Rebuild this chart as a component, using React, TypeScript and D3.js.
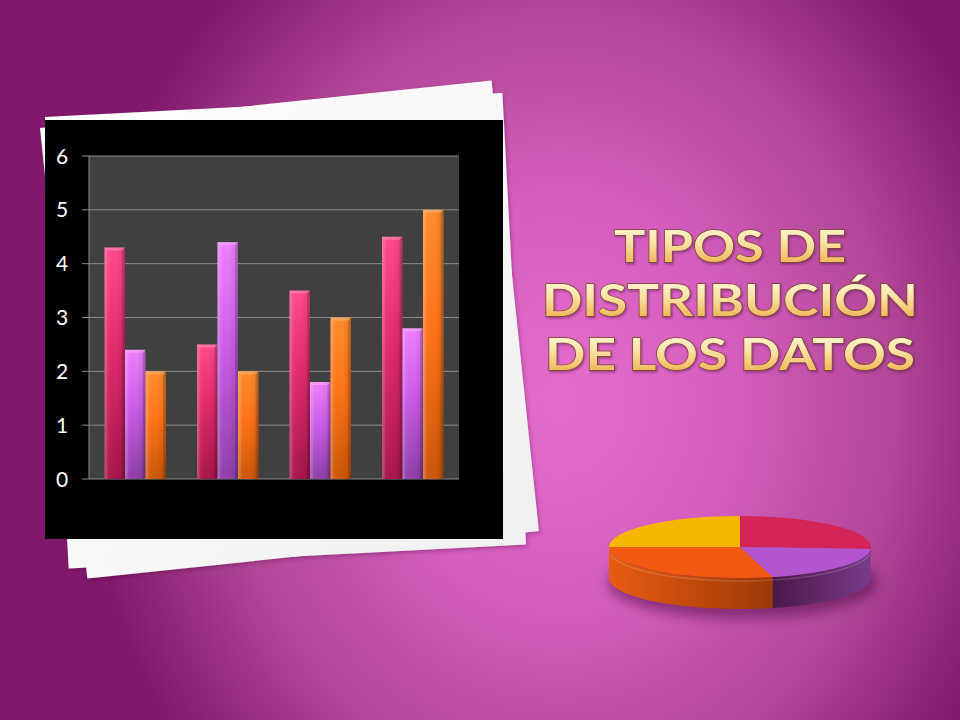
import React from 'react';
import * as d3 from 'd3';

// chart data
const categories = ['Categoría 1', 'Categoría 2', 'Categoría 3', 'Categoría 4'];
const seriesNames = ['Serie 1', 'Serie 2', 'Serie 3'];
const serie1 = [4.3, 2.5, 3.5, 4.5];
const serie2 = [2.4, 4.4, 1.8, 2.8];
const serie3 = [2, 2, 3, 5];
const yTicks = [0, 1, 2, 3, 4, 5, 6];
const pieValues = [26, 20, 29, 25];
const titleLines = ['TIPOS DE', 'DISTRIBUCIÓN', 'DE LOS DATOS'];

const W = 960;
const H = 720;

const barColors = [
  { top: '#ff4a8c', mid: '#e22a6c', bottom: '#a8164c' },
  { top: '#f080ff', mid: '#cc5ce8', bottom: '#8e3fa8' },
  { top: '#ff8c2c', mid: '#ff7418', bottom: '#cc5608' },
];
const pieTop = ['#d42458', '#b455d0', '#f25a12', '#f4b800'];
const pieSide = [
  ['#a01840', '#801030'],
  ['#4a1848', '#7a3a8c'],
  ['#e85c12', '#9c3806'],
  ['#d89a00', '#b07a00'],
];

export default function App() {
  const plot = { left: 89, right: 459, top: 156, bottom: 479 };

  const x0 = d3.scaleBand<string>()
    .domain(categories)
    .range([plot.left, plot.right])
    .paddingInner(0.335)
    .paddingOuter(0.1675);
  const x1 = d3.scaleBand<string>()
    .domain(seriesNames)
    .range([0, x0.bandwidth()]);
  const y = d3.scaleLinear().domain([0, 6]).range([plot.bottom, plot.top]);

  const series = [serie1, serie2, serie3];

  // 3D pie: top ellipse + visible front walls
  const pc = { cx: 740, cy: 547, rx: 131, ry: 31, depth: 31 };
  const arcs = d3.pie<number>().sort(null).startAngle(0).endAngle(2 * Math.PI)(pieValues);
  const arcGen = d3.arc<d3.PieArcDatum<number>>().innerRadius(0).outerRadius(pc.rx);
  const ept = (a: number, dy = 0): [number, number] => [
    pc.cx + pc.rx * Math.sin(a),
    pc.cy - pc.ry * Math.cos(a) + dy,
  ];
  const sidePath = (a0: number, a1: number) => {
    const s = Math.max(a0, Math.PI / 2);
    const e = Math.min(a1, (3 * Math.PI) / 2);
    if (e <= s) return null;
    const n = 40;
    const topPts = d3.range(n + 1).map(i => ept(s + ((e - s) * i) / n));
    const botPts = d3.range(n + 1).map(i => ept(e - ((e - s) * i) / n, pc.depth));
    return d3.line()([...topPts, ...botPts]) + 'Z';
  };

  const titleX = 730;
  const titleBase = [262, 316, 370];
  const titleWidth = [232, 376, 370];

  return (
    <svg width={W} height={H} viewBox={`0 0 ${W} ${H}`}
      style={{ position: 'absolute', left: 0, top: 0, display: 'block' }}>
      <defs>
        <radialGradient id="bg" gradientUnits="userSpaceOnUse" cx={560} cy={400} r={560}
          gradientTransform="translate(560,400) scale(0.857,1) translate(-560,-400)">
          <stop offset="0" stopColor="#e46ccc" />
          <stop offset="0.35" stopColor="#d65ebf" />
          <stop offset="0.7" stopColor="#b24698" />
          <stop offset="1" stopColor="#82186c" />
        </radialGradient>
        {barColors.map((c, i) => (
          <linearGradient key={i} id={`barV${i}`} x1="0" y1="0" x2="0" y2="1">
            <stop offset="0" stopColor={c.top} />
            <stop offset="0.45" stopColor={c.mid} />
            <stop offset="1" stopColor={c.bottom} />
          </linearGradient>
        ))}
        <linearGradient id="barH" x1="0" y1="0" x2="1" y2="0">
          <stop offset="0" stopColor="#fff" stopOpacity="0.18" />
          <stop offset="0.15" stopColor="#fff" stopOpacity="0.05" />
          <stop offset="0.55" stopColor="#000" stopOpacity="0" />
          <stop offset="0.85" stopColor="#000" stopOpacity="0.08" />
          <stop offset="1" stopColor="#000" stopOpacity="0.22" />
        </linearGradient>
        {pieSide.map((c, i) => (
          <linearGradient key={i} id={`side${i}`} x1="0" y1="0" x2="1" y2="0">
            <stop offset="0" stopColor={c[0]} />
            <stop offset="1" stopColor={c[1]} />
          </linearGradient>
        ))}
        <linearGradient id="titleFill" x1="0" y1="0" x2="0" y2="1">
          <stop offset="0" stopColor="#fffbe8" />
          <stop offset="0.45" stopColor="#fbe3a8" />
          <stop offset="1" stopColor="#eea43a" />
        </linearGradient>
        <linearGradient id="paper" x1="0" y1="0" x2="1" y2="1">
          <stop offset="0" stopColor="#ffffff" />
          <stop offset="1" stopColor="#f0f0f0" />
        </linearGradient>
        <filter id="blur6" x="-30%" y="-100%" width="160%" height="300%">
          <feGaussianBlur stdDeviation="6" />
        </filter>
        <filter id="paperShadow" x="-10%" y="-10%" width="120%" height="120%">
          <feDropShadow dx="1" dy="2" stdDeviation="2" floodColor="#400030" floodOpacity="0.35" />
        </filter>
        <filter id="titleShadow" x="-10%" y="-20%" width="120%" height="140%">
          <feDropShadow dx="1" dy="1.5" stdDeviation="1" floodColor="#4a1040" floodOpacity="0.5" />
        </filter>
      </defs>

      <rect x={0} y={0} width={W} height={H} fill="url(#bg)" />

      {/* paper sheets behind the chart */}
      <g filter="url(#paperShadow)">
        <rect x={40} y={128} width={454} height={453} fill="url(#paper)"
          transform="rotate(-6 40 128)" />
        <rect x={45} y={117} width={458} height={452} fill="url(#paper)"
          transform="rotate(-3 45 117)" />
      </g>
      <rect x={45} y={120} width={458} height={419} fill="#000" />

      {/* bar chart */}
      <rect x={plot.left} y={plot.top} width={plot.right - plot.left} height={plot.bottom - plot.top} fill="#404040" />
      {yTicks.map(t => (
        <g key={t}>
          <line x1={plot.left - 7} x2={plot.right} y1={y(t)} y2={y(t)} stroke="#8c8c8c" strokeWidth={1} />
          <text x={62} y={y(t)} dy="0.36em" textAnchor="middle" fill="#fff"
            fontFamily="Lato, 'Open Sans', sans-serif" fontSize={21}>{t}</text>
        </g>
      ))}
      <line x1={plot.left} x2={plot.left} y1={plot.top} y2={plot.bottom} stroke="#8c8c8c" strokeWidth={1} />

      {categories.map((cat, i) => (
        <g key={cat}>
          {seriesNames.map((s, j) => {
            const v = series[j][i];
            const bx = (x0(cat) ?? 0) + (x1(s) ?? 0);
            const bw = x1.bandwidth();
            const by = y(v);
            const bh = y(0) - y(v);
            return (
              <g key={s}>
                <rect x={bx} y={by} width={bw} height={bh} fill={`url(#barV${j})`} />
                <rect x={bx} y={by} width={bw} height={bh} fill="url(#barH)" />
                <polygon
                  points={`${bx},${by} ${bx + bw},${by} ${bx + bw - 3},${by + 3} ${bx + 3},${by + 3}`}
                  fill="#fff" fillOpacity={0.22} />
                <polygon
                  points={`${bx},${by} ${bx + 3},${by + 3} ${bx + 3},${by + bh} ${bx},${by + bh}`}
                  fill="#fff" fillOpacity={0.08} />
                <polygon
                  points={`${bx + bw},${by} ${bx + bw - 3},${by + 3} ${bx + bw - 3},${by + bh} ${bx + bw},${by + bh}`}
                  fill="#000" fillOpacity={0.12} />
              </g>
            );
          })}
        </g>
      ))}

      {/* title */}
      <g filter="url(#titleShadow)">
        {titleLines.map((line, i) => (
          <text key={line} x={titleX} y={titleBase[i]} textAnchor="middle"
            textLength={titleWidth[i]} lengthAdjust="spacingAndGlyphs"
            fontFamily="Lato, 'DejaVu Sans', sans-serif" fontWeight={700} fontSize={44}
            fill="url(#titleFill)" stroke="#7a4a28" strokeWidth={1.3} paintOrder="stroke">
            {line}
          </text>
        ))}
      </g>

      {/* 3D pie */}
      <ellipse cx={pc.cx + 2} cy={pc.cy + pc.depth + 4} rx={pc.rx + 4} ry={pc.ry + 6}
        fill="#3a0638" fillOpacity={0.45} filter="url(#blur6)" />
      {arcs.map((a, i) => {
        const d = sidePath(a.startAngle, a.endAngle);
        return d ? <path key={i} d={d} fill={`url(#side${i})`} /> : null;
      })}
      <g transform={`translate(${pc.cx},${pc.cy}) scale(1,${pc.ry / pc.rx})`}>
        {arcs.map((a, i) => (
          <path key={i} d={arcGen(a) ?? ''} fill={pieTop[i]} />
        ))}
      </g>
      <path d={d3.line()(d3.range(41).map(k => ept(Math.PI * 0.55 + (Math.PI * 0.9 * k) / 40, 3)))!}
        fill="none" stroke="#fff" strokeOpacity={0.15} strokeWidth={1.5} />
    </svg>
  );
}
